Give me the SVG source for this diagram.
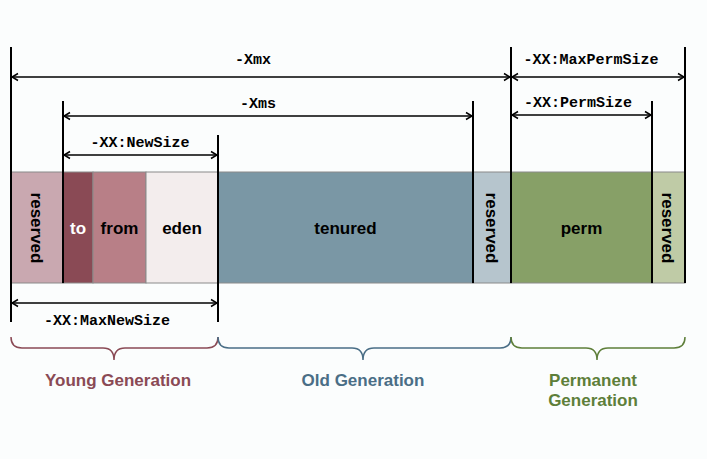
<svg xmlns="http://www.w3.org/2000/svg" width="707" height="459" viewBox="0 0 707 459">
<defs>
<marker id="ah" markerWidth="10" markerHeight="10" refX="9" refY="5" orient="auto-start-reverse" markerUnits="userSpaceOnUse">
<polyline points="3,1.5 9,5 3,8.5" fill="none" stroke="#000" stroke-width="1.5"/>
</marker>
<style>
.dim{stroke:#000;stroke-width:1.5;fill:none;marker-start:url(#ah);marker-end:url(#ah)}
.ext{stroke:#000;stroke-width:2;fill:none}
.mono{font-family:"Liberation Mono","Courier New",monospace;font-weight:bold;font-size:15px;text-anchor:middle;fill:#000}
.lbl{font-family:"Liberation Sans",Arial,sans-serif;font-weight:bold;font-size:17px;text-anchor:middle;fill:#000}
.gen{font-family:"Liberation Sans",Arial,sans-serif;font-weight:bold;font-size:17px;text-anchor:middle}
.cell{stroke:#8a8a8a;stroke-width:1}
.brace{fill:none;stroke-width:1.5}
</style>
</defs>
<rect width="707" height="459" fill="#fbfdfd"/>

<g id="cells">
<g id="reserved-young"><rect class="cell" x="11" y="172" width="52" height="111" fill="#c9a8b0"/><text class="lbl" transform="translate(31,228) rotate(90)">reserved</text></g>
<g id="to"><rect class="cell" x="63" y="172" width="30" height="111" fill="#8a4a55"/><text class="lbl" x="78" y="234" style="fill:#fff">to</text></g>
<g id="from"><rect class="cell" x="93" y="172" width="53" height="111" fill="#b87f87"/><text class="lbl" x="119.5" y="234">from</text></g>
<g id="eden"><rect class="cell" x="146" y="172" width="72" height="111" fill="#f3eded"/><text class="lbl" x="182" y="234">eden</text></g>
<g id="tenured"><rect class="cell" x="218" y="172" width="255" height="111" fill="#7a97a5"/><text class="lbl" x="345.5" y="234">tenured</text></g>
<g id="reserved-old"><rect class="cell" x="473" y="172" width="38" height="111" fill="#b6c5cd"/><text class="lbl" transform="translate(486,228) rotate(90)">reserved</text></g>
<g id="perm"><rect class="cell" x="511" y="172" width="141" height="111" fill="#87a067"/><text class="lbl" x="581.5" y="234">perm</text></g>
<g id="reserved-perm"><rect class="cell" x="652" y="172" width="33" height="111" fill="#bfcba6"/><text class="lbl" transform="translate(662,228) rotate(90)">reserved</text></g>
</g>

<g id="connectors">
<line class="ext" x1="11" y1="47" x2="11" y2="322"/>
<line class="ext" x1="63" y1="101" x2="63" y2="283"/>
<line class="ext" x1="218" y1="135" x2="218" y2="322"/>
<line class="ext" x1="473" y1="101" x2="473" y2="283"/>
<line class="ext" x1="511" y1="47" x2="511" y2="283"/>
<line class="ext" x1="652" y1="101" x2="652" y2="283"/>
<line class="ext" x1="685" y1="47" x2="685" y2="283"/>

<line class="dim" x1="12" y1="77" x2="510" y2="77"/>
<line class="dim" x1="512" y1="77" x2="684" y2="77"/>
<line class="dim" x1="64" y1="116" x2="472" y2="116"/>
<line class="dim" x1="512" y1="115" x2="651" y2="115"/>
<line class="dim" x1="64" y1="155" x2="217" y2="155"/>
<line class="dim" x1="12" y1="303" x2="217" y2="303"/>

<path class="brace" stroke="#8a4a55" d="M11,337 Q11,348 22,348 L103,348 Q114,348 114,360 Q114,348 125,348 L207,348 Q218,348 218,337"/>
<path class="brace" stroke="#4a6e86" d="M218,337 Q218,348 229,348 L352,348 Q363,348 363,360 Q363,348 374,348 L500,348 Q511,348 511,337"/>
<path class="brace" stroke="#5e7f3a" d="M511,337 Q511,348 522,348 L586,348 Q597,348 597,360 Q597,348 608,348 L674,348 Q685,348 685,337"/>
</g>

<g id="labels">
<text class="mono" x="253" y="64">-Xmx</text>
<text class="mono" x="591" y="64">-XX:MaxPermSize</text>
<text class="mono" x="258" y="108">-Xms</text>
<text class="mono" x="578" y="107">-XX:PermSize</text>
<text class="mono" x="140" y="147">-XX:NewSize</text>
<text class="mono" x="107" y="325">-XX:MaxNewSize</text>
<text class="gen" x="118" y="386" fill="#8a4a55">Young Generation</text>
<text class="gen" x="363" y="386" fill="#4a6e86">Old Generation</text>
<text class="gen" x="593" y="386" fill="#5e7f3a">Permanent</text>
<text class="gen" x="593" y="406" fill="#5e7f3a">Generation</text>
</g>
</svg>
